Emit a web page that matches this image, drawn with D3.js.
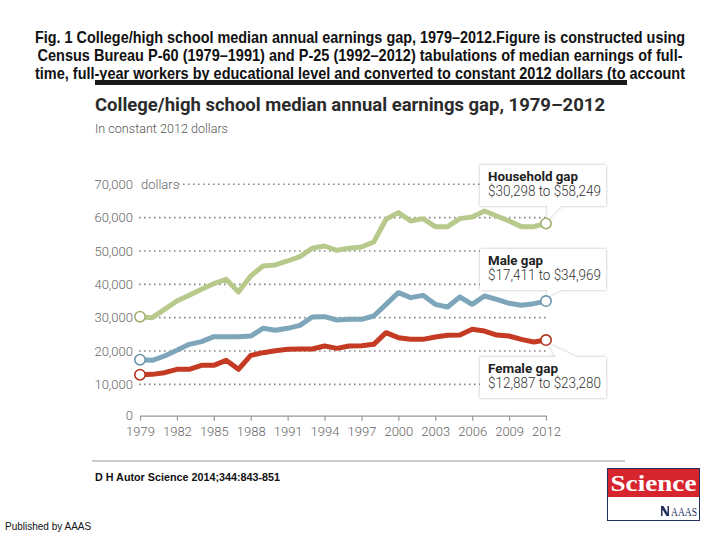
<!DOCTYPE html>
<html><head><meta charset="utf-8">
<script src="https://cdn.jsdelivr.net/npm/d3@7"></script>
<style>
html,body{margin:0;padding:0;background:#fff;}
svg{display:block;}
</style></head>
<body>
<script>
const years = d3.range(1979, 2013);
const householdGap = [30298,30000,32500,35000,36700,38500,40200,41500,37700,42500,45500,45800,47000,48300,50800,51500,50200,50800,51200,52700,59500,61500,59000,59700,57300,57300,59700,60200,62000,60500,59000,57300,57300,58249];
const maleGap = [17411,17200,18500,20200,22000,22800,24300,24300,24300,24500,26800,26200,26800,27700,30200,30300,29300,29500,29500,30500,34000,37500,36000,36700,34000,33200,36200,34000,36500,35500,34300,33700,34200,34969];
const femaleGap = [12887,13000,13500,14500,14500,15700,15700,17200,14500,18700,19500,20100,20500,20600,20600,21500,20800,21500,21600,22000,25500,24000,23500,23500,24200,24700,24800,26500,26000,24800,24500,23500,22700,23280];
const yTicks = [0,10000,20000,30000,40000,50000,60000,70000];
const xTicks = [1979,1982,1985,1988,1991,1994,1997,2000,2003,2006,2009,2012];
const seriesNames = ["Household gap","Male gap","Female gap"];
const seriesRanges = ["$30,298 to $58,249","$17,411 to $34,969","$12,887 to $23,280"];
const captionLines = [
 "Fig. 1 College/high school median annual earnings gap, 1979–2012.Figure is constructed using",
 "Census Bureau P-60 (1979–1991) and P-25 (1992–2012) tabulations of median earnings of full-",
 "time, full-year workers by educational level and converted to constant 2012 dollars (to account"
];

const W = 719, H = 539;
const svg = d3.select("body").append("svg").attr("width", W).attr("height", H);

// caption
const capLen = [650, 645, 650];
captionLines.forEach((t, i) => {
  svg.append("text")
    .attr("transform", `translate(360,${43 + i * 18}) scale(1,1.18)`)
    .attr("text-anchor", "middle")
    .attr("font-family", "'Liberation Sans Narrow','Liberation Sans',Arial,sans-serif")
    .attr("font-weight", "bold").attr("font-size", 13.5).attr("fill", "#111")
    .attr("textLength", capLen[i]).attr("lengthAdjust", "spacingAndGlyphs")
    .text(t);
});
svg.append("rect").attr("x", 95).attr("y", 80).attr("width", 532).attr("height", 5).attr("fill", "#1a1a1a");

const F = "Roboto, 'Open Sans', sans-serif";
// chart title
svg.append("text").attr("x", 95).attr("y", 111).attr("font-family", F)
  .attr("font-weight", "bold").attr("font-size", 18.5).attr("fill", "#2b2b2b")
  .attr("textLength", 510).attr("lengthAdjust", "spacingAndGlyphs")
  .text("College/high school median annual earnings gap, 1979–2012");
svg.append("text").attr("x", 95).attr("y", 133).attr("font-family", F)
  .attr("font-weight", 300).attr("font-size", 13).attr("fill", "#555")
  .attr("textLength", 133).attr("lengthAdjust", "spacingAndGlyphs")
  .text("In constant 2012 dollars");

const x = d3.scaleLinear().domain([1979, 2012]).range([140, 546]);
const y = d3.scaleLinear().domain([0, 70000]).range([417.7, 184.3]);

// gridlines
yTicks.filter(v => v > 0).forEach(v => {
  svg.append("line")
    .attr("x1", v === 70000 ? 178 : 139).attr("x2", 548)
    .attr("y1", y(v)).attr("y2", y(v))
    .attr("stroke", "#888").attr("stroke-width", 1.6)
    .attr("stroke-dasharray", "1.6,3.4").attr("stroke-linecap", "butt");
});
// y labels
yTicks.forEach(v => {
  svg.append("text").attr("x", 133).attr("y", v === 0 ? y(0) - 2 : y(v))
    .attr("dy", "0.35em").attr("text-anchor", "end")
    .attr("font-family", F).attr("font-weight", 300).attr("font-size", 13).attr("fill", "#666")
    .text(d3.format(",")(v));
});
svg.append("text").attr("x", 141).attr("y", y(70000)).attr("dy", "0.35em")
  .attr("font-family", F).attr("font-weight", 300).attr("font-size", 13).attr("fill", "#666").text("dollars");

// x axis
const xAxis = d3.axisBottom(x).tickValues(xTicks).tickFormat(d3.format("d")).tickSize(5).tickSizeOuter(0);
const gx = svg.append("g").attr("transform", `translate(0,${y(0) - 2})`).call(xAxis);
gx.select(".domain").attr("stroke", "#999").attr("stroke-width", 1.2);
gx.selectAll(".tick line").attr("stroke", "#999").attr("stroke-width", 1.2);
gx.selectAll(".tick text").attr("font-family", F).attr("font-weight", 300)
  .attr("font-size", 13).attr("fill", "#666").attr("dy", "0.95em");

// lines
const colors = ["#b7c98b", "#7ea6bb", "#c43a23"];
const strokes = ["#9fb06f", "#6d95ab", "#b03420"];
const data = [householdGap, maleGap, femaleGap];
const line = d3.line().x((d, i) => x(years[i])).y(d => y(d));
data.forEach((s, k) => {
  svg.append("path").datum(s).attr("d", line).attr("fill", "none")
    .attr("stroke", colors[k]).attr("stroke-width", 5).attr("stroke-linejoin", "round");
});

// annotation boxes
const defs = svg.append("defs");
const f = defs.append("filter").attr("id", "sh").attr("x", "-20%").attr("y", "-30%").attr("width", "140%").attr("height", "160%");
f.append("feDropShadow").attr("dx", 0).attr("dy", 0).attr("stdDeviation", 1.6)
  .attr("flood-color", "#999").attr("flood-opacity", 0.7);

const boxTop = [165, 249, 357];
data.forEach((s, k) => {
  const cx = x(2012), cy = y(s[s.length - 1]);
  const g = svg.append("g").attr("filter", "url(#sh)");
  const bt = boxTop[k], bh = 41;
  let pts;
  if (k < 2) pts = [[cx + 1, bt + bh - 1], [cx + 16, bt + bh - 1], [cx + 2, cy - 4]];
  else pts = [[cx + 3, cy + 4], [cx + 10, bt + 1], [cx + 32, bt + 1]];
  g.append("path").attr("d", d3.line()(pts) + "Z").attr("fill", "#fff");
  g.append("rect").attr("x", 480).attr("y", bt).attr("width", 126).attr("height", bh).attr("fill", "#fff");
  svg.append("path").attr("d", d3.line()(pts) + "Z").attr("fill", "#fff");
  svg.append("rect").attr("x", 480).attr("y", bt).attr("width", 126).attr("height", bh).attr("fill", "#fff");
  svg.append("text").attr("x", 488).attr("y", bt + 15.5).attr("font-family", F)
    .attr("font-weight", "bold").attr("font-size", 13).attr("fill", "#222")
    .attr("textLength", [90, 55, 70][k]).attr("lengthAdjust", "spacingAndGlyphs")
    .text(seriesNames[k]);
  svg.append("text").attr("x", 488).attr("y", bt + 31).attr("font-family", F)
    .attr("font-weight", 300).attr("font-size", 14).attr("fill", "#333")
    .attr("textLength", 113).attr("lengthAdjust", "spacingAndGlyphs")
    .text(seriesRanges[k]);
});

// end circles
data.forEach((s, k) => {
  [0, s.length - 1].forEach(i => {
    svg.append("circle").attr("cx", x(years[i])).attr("cy", y(s[i])).attr("r", 5.2)
      .attr("fill", "#fff").attr("stroke", strokes[k]).attr("stroke-width", 1.6);
  });
});

// footer
svg.append("line").attr("x1", 92).attr("x2", 625).attr("y1", 461).attr("y2", 461)
  .attr("stroke", "#999").attr("stroke-width", 1);
svg.append("text").attr("x", 95).attr("y", 481)
  .attr("font-family", "'Liberation Sans Narrow','Liberation Sans',Arial,sans-serif")
  .attr("font-weight", "bold").attr("font-size", 11.5).attr("fill", "#111")
  .attr("textLength", 185).attr("lengthAdjust", "spacingAndGlyphs")
  .text("D H Autor Science 2014;344:843-851");
svg.append("text").attr("x", 5).attr("y", 530)
  .attr("font-family", "'Liberation Sans',Arial,sans-serif")
  .attr("font-size", 10).attr("fill", "#111").text("Published by AAAS");

// Science logo
svg.append("rect").attr("x", 607.5).attr("y", 468.5).attr("width", 92).attr("height", 52)
  .attr("fill", "#fff").attr("stroke", "#22305e").attr("stroke-width", 1);
svg.append("rect").attr("x", 608).attr("y", 469).attr("width", 91).attr("height", 28).attr("fill", "#d7252e");
svg.append("text").attr("x", 653.5).attr("y", 491).attr("text-anchor", "middle")
  .attr("font-family", "'Liberation Serif','DejaVu Serif',serif").attr("font-weight", "bold")
  .attr("font-size", 24).attr("fill", "#fff")
  .attr("textLength", 86).attr("lengthAdjust", "spacingAndGlyphs").text("Science");
svg.append("path").attr("d", "M661,516 L661,506 L663.5,506 L667.5,513 L667.5,506 L669,506 L669,516 L666.5,516 L662.5,509.5 L662.5,516 Z")
  .attr("fill", "#22305e");
svg.append("text").attr("x", 671).attr("y", 516)
  .attr("font-family", "'Liberation Serif','DejaVu Serif',serif")
  .attr("font-size", 11.5).attr("fill", "#22305e")
  .attr("textLength", 26).attr("lengthAdjust", "spacingAndGlyphs").text("AAAS");
</script>
</body></html>
